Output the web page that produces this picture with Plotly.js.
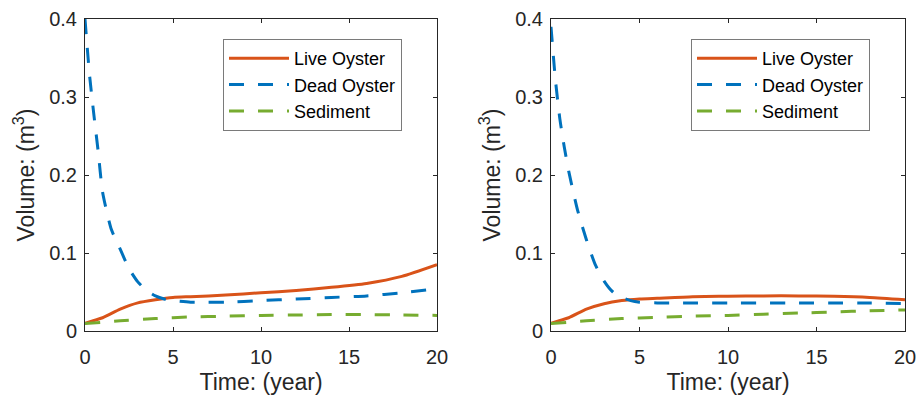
<!DOCTYPE html>
<html>
<head>
<meta charset="utf-8">
<script src="https://cdn.plot.ly/plotly-3.0.1.min.js"></script>
<style>html,body{margin:0;padding:0;background:#fff;}#chart{width:919px;height:399px;}</style>
</head>
<body>
<div id="chart"></div>
<script>
// ---- data ----
const tLive = [0,1,2,3,4,5,6,8,10,12,14,16,18,20];
const tDead = [0,0.25,0.5,0.75,1,1.5,2,2.5,3,3.5,4,4.5,5,6,7,8,10,12,14,16,18,20];
const tSed  = [0,2,4,6,8,10,12,14,16,18,20];

const live1 = [0.010,0.017,0.028,0.036,0.040,0.043,0.044,0.046,0.049,0.052,0.056,0.061,0.070,0.085];
const dead1 = [0.400,0.330,0.278,0.230,0.178,0.130,0.105,0.080,0.063,0.052,0.045,0.041,0.039,0.037,0.037,0.037,0.039,0.041,0.043,0.045,0.049,0.054];
const sed1  = [0.0095,0.013,0.016,0.018,0.019,0.020,0.0205,0.021,0.021,0.0205,0.020];

const live2 = [0.010,0.017,0.028,0.035,0.039,0.041,0.042,0.044,0.0445,0.045,0.045,0.0445,0.043,0.040];
const dead2 = [0.390,0.322,0.272,0.236,0.205,0.155,0.117,0.085,0.064,0.050,0.043,0.039,0.037,0.036,0.036,0.036,0.036,0.036,0.036,0.036,0.036,0.035];
const sed2  = [0.0095,0.013,0.016,0.0175,0.019,0.020,0.0215,0.023,0.0245,0.026,0.027];

const names = ['Live Oyster','Dead Oyster','Sediment'];
const xTicks = [0,5,10,15,20];
const yTicks = [0,0.1,0.2,0.3,0.4];
const xTitle = 'Time: (year)';
const yTitle = 'Volume: (m<sup>3</sup>)';

const cLive = '#D95319', cDead = '#0072BD', cSed = '#77AC30';
const ink = '#262626';
const FONT = 'Liberation Sans, Arial, Helvetica, sans-serif';

function mk(x, y, name, color, dash, xa, ya, lg) {
  return {x: x, y: y, name: name, mode: 'lines', type: 'scatter', xaxis: xa, yaxis: ya,
    legend: lg, line: {color: color, width: 3, dash: dash, shape: 'spline', smoothing: 0.6}};
}
const DASH = '15px,14px';
const traces = [
  mk(tLive, live1, names[0], cLive, 'solid', 'x', 'y', 'legend'),
  mk(tDead, dead1, names[1], cDead, DASH, 'x', 'y', 'legend'),
  mk(tSed, sed1, names[2], cSed, DASH, 'x', 'y', 'legend'),
  mk(tLive, live2, names[0], cLive, 'solid', 'x2', 'y2', 'legend2'),
  mk(tDead, dead2, names[1], cDead, DASH, 'x2', 'y2', 'legend2'),
  mk(tSed, sed2, names[2], cSed, DASH, 'x2', 'y2', 'legend2')
];

function xax(dom, anchor) {
  return {domain: dom, anchor: anchor, range: [0,20], tickvals: xTicks, ticks: 'inside', ticklen: 4,
    tickcolor: ink, showline: true, linecolor: ink, linewidth: 1, mirror: 'ticks', showgrid: false,
    zeroline: false, ticklabelstandoff: 8, tickfont: {size: 20, color: ink, family: FONT},
    title: {text: xTitle, font: {size: 23, color: ink, family: FONT}, standoff: 6}};
}
function yax(anchor) {
  return {domain: [0,1], anchor: anchor, range: [0,0.4], tickvals: yTicks, ticks: 'inside', ticklen: 4,
    tickcolor: ink, showline: true, linecolor: ink, linewidth: 1, mirror: 'ticks', showgrid: false,
    zeroline: false, ticklabelstandoff: 3, tickfont: {size: 20, color: ink, family: FONT},
    title: {text: yTitle, font: {size: 23, color: ink, family: FONT}, standoff: 8}};
}
function leg(x) {
  return {x: x, xanchor: 'left', y: 0.936, yanchor: 'top', bgcolor: '#fff', bordercolor: '#7a7a7a',
    borderwidth: 1, itemwidth: 60, tracegroupgap: 0, entrywidth: 188, entrywidthmode: 'pixels',
    font: {size: 18, color: '#000', family: FONT}};
}
const layout = {
  width: 919, height: 399, margin: {l: 0, r: 0, t: 19, b: 68}, paper_bgcolor: '#fff', plot_bgcolor: '#fff',
  font: {family: FONT, color: ink},
  xaxis: xax([85/919, 437/919], 'y'),
  yaxis: yax('x'),
  xaxis2: xax([551/919, 905/919], 'y2'),
  yaxis2: yax('x2'),
  legend: leg(223/919),
  legend2: leg(691/919),
  showlegend: true
};
Plotly.newPlot('chart', traces, layout, {displayModeBar: false, staticPlot: true});
</script>
</body>
</html>
